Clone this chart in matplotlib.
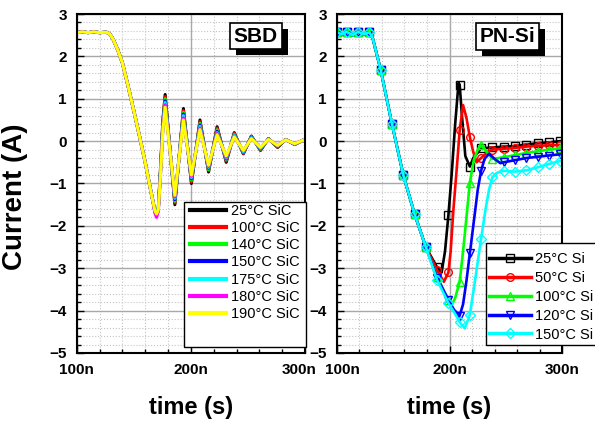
import matplotlib.pyplot as plt
import matplotlib.patheffects as pe
from matplotlib.patches import Rectangle
from matplotlib.transforms import offset_copy
from matplotlib.ticker import MultipleLocator

plt.rcParams['font.family'] = ['Liberation Sans', 'DejaVu Sans']
plt.rcParams['font.weight'] = 'bold'

# ---- SBD (SiC) : shared turn-off ramp, then per-temperature ringing ----
sbd_t_ramp = [100, 105, 110, 115, 120, 126, 129, 132, 136, 140, 145, 150, 155, 160, 164, 167]
sbd_ramp = [2.56, 2.58, 2.56, 2.58, 2.56, 2.57, 2.53, 2.40, 2.15, 1.85, 1.30, 0.72, 0.12, -0.50, -1.05, -1.45]

sbd_t_ring = [168.5, 170, 171.5, 173.5, 175.5, 177.5, 186, 193.5, 200.5, 208, 215.5, 223, 231,
              238, 246, 253, 261, 268, 276, 283, 291, 298, 300]
sbd_25 = [-1.65, -1.72, -1.58, -0.60, 0.50, 1.10, -1.50, 0.77, -1.00, 0.50, -0.73, 0.34, -0.50,
          0.20, -0.30, 0.12, -0.22, 0.06, -0.15, 0.04, -0.08, 0.02, 0.00]
sbd_100 = [-1.66, -1.74, -1.60, -0.65, 0.45, 1.05, -1.46, 0.72, -0.96, 0.46, -0.70, 0.31, -0.47,
           0.18, -0.29, 0.11, -0.21, 0.06, -0.14, 0.04, -0.08, 0.02, 0.00]
sbd_140 = [-1.64, -1.70, -1.58, -0.68, 0.40, 1.00, -1.42, 0.68, -0.92, 0.42, -0.67, 0.27, -0.44,
           0.16, -0.27, 0.10, -0.19, 0.05, -0.13, 0.04, -0.07, 0.02, 0.00]
sbd_150 = [-1.66, -1.74, -1.62, -0.70, 0.36, 0.95, -1.38, 0.64, -0.89, 0.38, -0.64, 0.23, -0.42,
           0.14, -0.26, 0.09, -0.18, 0.05, -0.12, 0.03, -0.07, 0.02, 0.00]
sbd_175 = [-1.66, -1.74, -1.62, -0.72, 0.33, 0.91, -1.35, 0.60, -0.86, 0.35, -0.62, 0.20, -0.40,
           0.13, -0.25, 0.08, -0.17, 0.05, -0.11, 0.03, -0.07, 0.02, 0.00]
sbd_180 = [-1.70, -1.80, -1.66, -0.75, 0.30, 0.86, -1.32, 0.55, -0.83, 0.31, -0.60, 0.18, -0.38,
           0.11, -0.23, 0.07, -0.16, 0.04, -0.10, 0.03, -0.06, 0.02, 0.00]
sbd_190 = [-1.64, -1.72, -1.62, -0.78, 0.25, 0.80, -1.28, 0.50, -0.80, 0.27, -0.57, 0.15, -0.35,
           0.10, -0.22, 0.06, -0.15, 0.04, -0.10, 0.03, -0.06, 0.02, 0.00]

sbd_curves = [sbd_25, sbd_100, sbd_140, sbd_150, sbd_175, sbd_180, sbd_190]
sbd_labels = ['25°C SiC', '100°C SiC', '140°C SiC', '150°C SiC', '175°C SiC', '180°C SiC', '190°C SiC']
sbd_colors = ['#000000', '#ff0000', '#00ff00', '#0000ff', '#00ffff', '#ff00ff', '#ffff00']

# ---- PN-Si : shared fall, then per-temperature reverse recovery ----
si_t_fall = [100, 104, 109, 114, 119, 124, 129, 132, 139, 149, 159, 169, 179]
si_fall = [2.58, 2.52, 2.58, 2.50, 2.58, 2.52, 2.57, 2.42, 1.68, 0.40, -0.80, -1.72, -2.50]

si_t_25 = [189, 193, 196, 199, 202, 205, 208, 209, 211, 214, 218, 221, 228, 238, 248, 258, 268, 278, 288, 298, 300]
si_25 = [-2.98, -3.10, -2.60, -1.75, -0.75, 0.40, 1.38, 1.33, 0.60, -0.35, -0.60, -0.40, -0.17,
         -0.15, -0.13, -0.12, -0.08, -0.05, -0.03, 0.00, 0.00]
si_t_50 = [189, 195, 199, 201, 203.5, 207, 209, 212, 215, 218, 221, 224, 228, 234, 238, 248, 258, 268, 278, 288, 298, 300]
si_50 = [-3.05, -3.32, -3.10, -2.60, -1.60, -0.45, 0.26, 0.85, 0.55, 0.10, -0.25, -0.50, -0.40,
         -0.25, -0.20, -0.18, -0.16, -0.13, -0.11, -0.10, -0.09, -0.08]
si_t_100 = [189, 199, 202, 205, 209, 212, 215, 218, 221.5, 225, 228, 232, 238, 248, 258, 268, 278, 288, 298, 300]
si_100 = [-3.20, -3.75, -3.87, -3.70, -3.32, -2.60, -1.80, -0.98, -0.45, -0.20, -0.10, -0.22,
          -0.42, -0.38, -0.33, -0.28, -0.24, -0.20, -0.17, -0.16]
si_t_120 = [189, 199, 204, 209, 212, 215, 218, 222, 225, 228, 231, 235, 240, 245, 248, 258, 268, 278, 288, 298, 300]
si_120 = [-3.22, -3.75, -3.98, -4.12, -3.85, -3.30, -2.65, -1.80, -1.15, -0.70, -0.42, -0.30,
          -0.42, -0.52, -0.50, -0.45, -0.40, -0.37, -0.34, -0.31, -0.30]
si_t_150 = [189, 199, 205, 209, 213.5, 218, 222, 225, 228, 232, 235, 238, 242, 248, 258, 268, 278, 288, 298, 300]
si_150 = [-3.28, -3.82, -4.08, -4.27, -4.42, -4.10, -3.40, -2.85, -2.30, -1.60, -1.15, -0.85,
          -0.75, -0.70, -0.72, -0.69, -0.62, -0.54, -0.47, -0.46]

si_marks = [100, 109, 119, 129, 139, 149, 159, 169, 179, 189, 199, 209, 218, 228,
            238, 248, 258, 268, 278, 288, 298]

si_times = [si_t_25, si_t_50, si_t_100, si_t_120, si_t_150]
si_curves = [si_25, si_50, si_100, si_120, si_150]
si_labels = ['25°C Si', '50°C Si', '100°C Si', '120°C Si', '150°C Si']
si_colors = ['#000000', '#ff0000', '#00ff00', '#0000ff', '#00ffff']
si_markers = ['s', 'o', '^', 'v', 'D']

x_ticks = [100, 200, 300]


def style_axes(ax, nudge):
    ax.set_xlim(100, 300)
    ax.set_ylim(-5, 3)
    ax.set_xticks(x_ticks)
    ax.xaxis.set_minor_locator(MultipleLocator(20))
    ax.yaxis.set_major_locator(MultipleLocator(1))
    ax.yaxis.set_minor_locator(MultipleLocator(0.2))
    ax.grid(which='major', color='#a8a8a8', lw=1.0, ls='-')
    ax.grid(which='minor', color='#c4c4c4', lw=0.8, ls=':')
    ax.set_axisbelow(True)
    ax.tick_params(which='both', direction='in', top=False, right=False, width=1)
    ax.tick_params(which='major', length=5, labelsize=11, pad=7)
    ax.tick_params(which='minor', length=3)
    ax.tick_params(axis='x', labelbottom=False)
    for s in ax.spines.values():
        s.set_linewidth(1.5)
    # x tick labels drawn by hand so the touching 300n / 100n pair can be nudged apart
    for v in x_ticks:
        tr = offset_copy(ax.get_xaxis_transform(), fig=ax.figure, x=nudge.get(v, 0), y=-7,
                         units='points')
        ax.text(v, 0, f"{v}n", transform=tr, ha='center', va='top', fontsize=11)
    ax.text(0.5, -0.162, 'time (s)', transform=ax.transAxes, ha='center', va='center',
            fontsize=17, fontweight='bold')


def shadow_box(ax, x, y, txt):
    t = ax.text(x, y, txt, transform=ax.transAxes, ha='center', va='center', fontsize=15,
                bbox=dict(boxstyle='square,pad=0.18', fc='white', ec='black', lw=1.2), zorder=6)
    t.get_bbox_patch().set_path_effects([
        pe.SimplePatchShadow(offset=(4.3, -4.3), shadow_rgbFace='black', alpha=1.0),
        pe.Normal()])


fig = plt.figure(figsize=(5.95, 4.23), dpi=100)
ax1 = fig.add_axes([0.1289, 0.1655, 0.3837, 0.8014])
ax2 = fig.add_axes([0.5659, 0.1655, 0.3792, 0.8014])

# left panel
for vals, lab, c in zip(sbd_curves, sbd_labels, sbd_colors):
    ax1.plot(sbd_t_ramp + sbd_t_ring, sbd_ramp + vals, color=c, lw=2.2, label=lab)
style_axes(ax1, {300: -4})
shadow_box(ax1, 0.785, 0.935, 'SBD')

ax1.add_patch(Rectangle((0.47, 0.0186), 0.535, 0.4274, transform=ax1.transAxes, fc='white',
                        ec='black', lw=1.0, zorder=7, clip_on=False))
leg1 = ax1.legend(loc='upper left', bbox_to_anchor=(0.495, 0.44), frameon=False,
                  prop={'size': 10.5, 'weight': 'normal'}, handlelength=2.5,
                  handletextpad=0.35, labelspacing=0.22, borderpad=0, borderaxespad=0)
leg1.set_zorder(8)
for h in leg1.get_lines():
    h.set_linewidth(3)

# right panel
for tt, vals, lab, c, m in zip(si_times, si_curves, si_labels, si_colors, si_markers):
    t_all = si_t_fall + tt
    v_all = si_fall + vals
    idx = [i for i, t in enumerate(t_all) if t in si_marks]
    ax2.plot(t_all, v_all, color=c, lw=1.9, marker=m, markevery=idx, ms=5.5,
             mfc='none', mec=c, mew=1.0, label=lab)
style_axes(ax2, {100: 4})
shadow_box(ax2, 0.757, 0.934, 'PN-Si')

ax2.add_patch(Rectangle((0.662, 0.024), 0.5, 0.2996, transform=ax2.transAxes, fc='white',
                        ec='black', lw=1.0, zorder=7, clip_on=False))
leg2 = ax2.legend(loc='upper left', bbox_to_anchor=(0.675, 0.297), frameon=False,
                  prop={'size': 10.5, 'weight': 'normal'}, handlelength=2.9,
                  handletextpad=0.25, labelspacing=0.33, borderpad=0, borderaxespad=0)
leg2.set_zorder(8)
for h in leg2.get_lines():
    h.set_linewidth(2.5)

fig.text(0.026, 1 - 197 / 423, 'Current (A)', rotation=90, ha='center', va='center',
         fontsize=20, fontweight='bold')

fig.savefig('out.png', dpi=100)
